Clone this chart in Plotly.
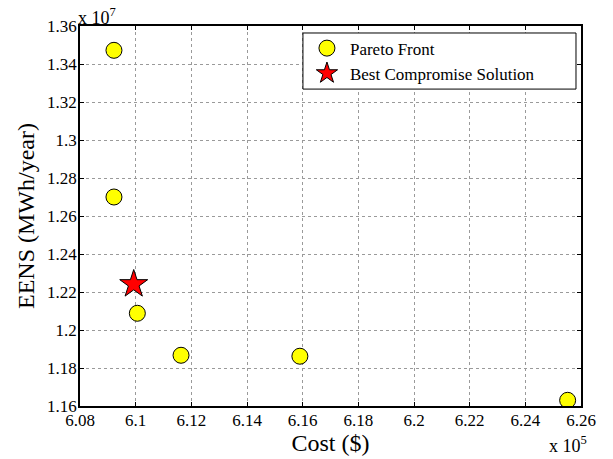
import plotly.graph_objects as go

# Data (Cost in $, EENS in MWh/year)
pareto_cost = [609220, 609220, 610060, 611630, 615900, 625520]
pareto_eens = [13472000, 12700000, 12088000, 11867000, 11862000, 11630000]
best_cost = [609930]
best_eens = [12241000]

x_scale = 1e5
y_scale = 1e7
x_ticks = [6.08, 6.10, 6.12, 6.14, 6.16, 6.18, 6.20, 6.22, 6.24, 6.26]
x_tick_labels = ["6.08", "6.1", "6.12", "6.14", "6.16", "6.18", "6.2", "6.22", "6.24", "6.26"]
y_ticks = [1.16, 1.18, 1.20, 1.22, 1.24, 1.26, 1.28, 1.30, 1.32, 1.34, 1.36]
y_tick_labels = ["1.16", "1.18", "1.2", "1.22", "1.24", "1.26", "1.28", "1.3", "1.32", "1.34", "1.36"]

FONT = "Liberation Serif"

fig = go.Figure()
fig.add_trace(go.Scatter(
    x=[c / x_scale for c in pareto_cost], y=[e / y_scale for e in pareto_eens],
    mode="markers", name="Pareto Front",
    marker=dict(symbol="circle", size=16, color="#ffff00", line=dict(color="black", width=1)),
))
fig.add_trace(go.Scatter(
    x=[c / x_scale for c in best_cost], y=[e / y_scale for e in best_eens],
    mode="markers", name="Best Compromise Solution",
    marker=dict(symbol="star", size=21, color="#ff0000", line=dict(color="black", width=1)),
))

axis_common = dict(
    showgrid=True, gridcolor="#9a9a9a", gridwidth=1, griddash="dot",
    showline=True, linecolor="black", linewidth=1.5, mirror="ticks",
    ticks="inside", ticklen=4, tickcolor="black", zeroline=False,
    tickfont=dict(family=FONT, size=17, color="black"),
    automargin=False,
)

fig.update_xaxes(range=[6.08, 6.26], tickvals=x_ticks, ticktext=x_tick_labels,
                 ticklabelstandoff=-2,
                 title=dict(text="Cost ($)", font=dict(family=FONT, size=24, color="black"), standoff=0),
                 **axis_common)
fig.update_yaxes(range=[1.16, 1.36], tickvals=y_ticks, ticktext=y_tick_labels,
                 ticklabelstandoff=-2,
                 title=dict(text="EENS (MWh/year)", font=dict(family=FONT, size=24, color="black"), standoff=6),
                 **axis_common)

fig.add_annotation(xref="paper", yref="paper", x=0, y=1, xanchor="left", yanchor="bottom",
                   text="x 10<sup>7</sup>", showarrow=False, yshift=-4, xshift=-4,
                   font=dict(family=FONT, size=18, color="black"))
fig.add_annotation(xref="paper", yref="paper", x=1.0, y=0, xanchor="center", yanchor="top",
                   text="x 10<sup>5</sup>", showarrow=False, xshift=-13, yshift=-25,
                   font=dict(family=FONT, size=18, color="black"))

# legend frame (MATLAB-style box)
fig.add_shape(type="rect", xref="paper", yref="paper", x0=0.445, x1=0.990, y0=0.834, y1=0.9816,
              line=dict(color="black", width=1), fillcolor="white", layer="above")

fig.update_layout(
    width=613, height=459,
    margin=dict(l=80, r=32, t=26, b=53, autoexpand=False),
    paper_bgcolor="white", plot_bgcolor="white",
    showlegend=True,
    legend=dict(x=0.447, y=0.988, xanchor="left", yanchor="top",
                bgcolor="rgba(0,0,0,0)", borderwidth=0,
                font=dict(family=FONT, size=17, color="black"),
                itemwidth=36, tracegroupgap=0),
)

fig.write_html("out.html", config={"displayModeBar": False},
               post_script="document.body.style.margin='0';")
